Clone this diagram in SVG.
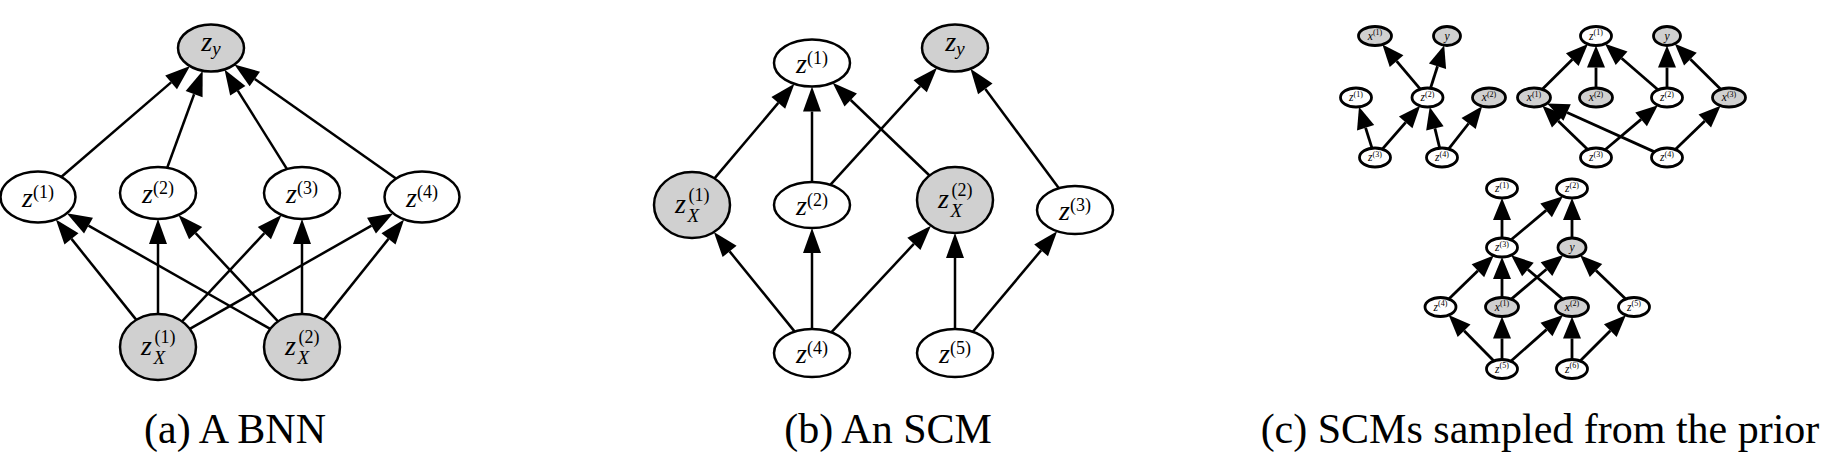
<svg xmlns="http://www.w3.org/2000/svg" width="1842" height="458" viewBox="0 0 1842 458" font-family="'Liberation Serif', 'DejaVu Serif', serif">
<style>
.n{fill:#fff;stroke:#000;stroke-width:2.5}
.g{fill:#d0d0d0;stroke:#000;stroke-width:2.5}
.ns{fill:#fff;stroke:#000;stroke-width:2.8}
.gs{fill:#d0d0d0;stroke:#000;stroke-width:2.8}
.e path{fill:none;stroke:#000;stroke-width:2.5;marker-end:url(#ah)}
.es path{fill:none;stroke:#000;stroke-width:2.8;marker-end:url(#as)}
text{font-family:"Liberation Serif","DejaVu Serif",serif;fill:#000}
.m{font-size:28px;text-anchor:middle}
.st{font-size:28px}
.i{font-style:italic}
.sp{font-size:18px;font-style:normal}
.sb{font-size:19px;font-style:italic}
.ms{font-size:11.5px;text-anchor:middle}
.sps{font-size:8px;font-style:normal}
.cap{font-size:42px;text-anchor:middle}
</style>
<defs>
<marker id="ah" markerUnits="userSpaceOnUse" markerWidth="25" markerHeight="18" refX="0" refY="9" orient="auto" overflow="visible"><path d="M0,0 L25,9 L0,18 z" fill="#000"/></marker>
<marker id="as" markerUnits="userSpaceOnUse" markerWidth="22" markerHeight="18" refX="0" refY="9" orient="auto" overflow="visible"><path d="M0,0 L22,9 L0,18 z" fill="#000"/></marker>
</defs>
<rect width="1842" height="458" fill="#fff"/>
<g id="edges">
<g class="e">
<path d="M61.2,177.0 L171.1,82.4"/>
<path d="M167.2,167.8 L194.1,94.2"/>
<path d="M287.0,169.1 L237.8,90.7"/>
<path d="M396.0,178.6 L254.8,79.0"/>
<path d="M136.3,319.9 L71.5,238.9"/>
<path d="M158,314 L158,244"/>
<path d="M182.0,321.4 L264.4,233.2"/>
<path d="M189.8,328.9 L371.5,225.7"/>
<path d="M270.2,328.9 L88.5,225.7"/>
<path d="M278.0,321.4 L195.6,233.2"/>
<path d="M302,314 L302,244"/>
<path d="M323.7,319.9 L388.5,238.9"/>
<path d="M714.5,178.4 L778.3,102.9"/>
<path d="M812,182 L812,111.5"/>
<path d="M929.5,175.5 L850.7,100.0"/>
<path d="M830.3,184.9 L920.2,86.2"/>
<path d="M1058.9,188.3 L985.3,88.9"/>
<path d="M794.7,331.6 L729.6,251.4"/>
<path d="M812,329 L812,253"/>
<path d="M831.3,332.3 L913.9,243.9"/>
<path d="M955,329 L955,258"/>
<path d="M972.8,331.8 L1041.1,250.4"/>
</g>
<g class="es">
<path d="M1420.3,89.1 L1396.6,61.2"/>
<path d="M1430.5,88.2 L1437.5,66.3"/>
<path d="M1372.0,148.2 L1365.6,127.8"/>
<path d="M1382.3,149.1 L1405.7,122.4"/>
<path d="M1439.7,148.1 L1434.9,128.3"/>
<path d="M1448.7,148.9 L1468.6,123.5"/>
<path d="M1542.3,89.3 L1572.3,59.6"/>
<path d="M1596,88 L1596,67.5"/>
<path d="M1658.0,89.7 L1621.6,58.2"/>
<path d="M1667,88 L1667,67.5"/>
<path d="M1720.7,89.3 L1690.4,59.2"/>
<path d="M1587.7,149.5 L1558.2,121.0"/>
<path d="M1605.1,149.8 L1641.1,119.4"/>
<path d="M1654.5,151.9 L1567.1,112.5"/>
<path d="M1675.3,149.5 L1704.8,121.0"/>
<path d="M1502,238 L1502,220"/>
<path d="M1511.1,239.8 L1546.1,210.4"/>
<path d="M1572,238 L1572,220"/>
<path d="M1448.8,299.0 L1477.9,270.8"/>
<path d="M1502,297.5 L1502,279"/>
<path d="M1562.7,299.1 L1527.9,269.5"/>
<path d="M1511.3,299.1 L1546.5,269.2"/>
<path d="M1625.7,299.0 L1596.0,270.5"/>
<path d="M1493.9,360.9 L1464.1,330.7"/>
<path d="M1502,359.5 L1502,338.5"/>
<path d="M1510.8,361.2 L1546.5,329.6"/>
<path d="M1572,359.5 L1572,338.5"/>
<path d="M1580.1,360.9 L1610.3,330.7"/>
</g>
</g>
<!-- (a) -->
<g id="a-zy"><ellipse class="g" cx="211" cy="48" rx="33" ry="23.5"/><text class="m" x="211" y="51"><tspan class="i">z</tspan><tspan class="sb" dy="4">y</tspan></text></g>
<g id="a-z1"><ellipse class="n" cx="38" cy="197" rx="37.5" ry="25.5"/><text class="m" x="38" y="207"><tspan class="i">z</tspan><tspan class="sp" dy="-9">(1)</tspan></text></g>
<g id="a-z2"><ellipse class="n" cx="158" cy="193" rx="38" ry="26"/><text class="m" x="158" y="203"><tspan class="i">z</tspan><tspan class="sp" dy="-9">(2)</tspan></text></g>
<g id="a-z3"><ellipse class="n" cx="302" cy="193" rx="38" ry="26"/><text class="m" x="302" y="203"><tspan class="i">z</tspan><tspan class="sp" dy="-9">(3)</tspan></text></g>
<g id="a-z4"><ellipse class="n" cx="422" cy="197" rx="37.5" ry="25.5"/><text class="m" x="422" y="207"><tspan class="i">z</tspan><tspan class="sp" dy="-9">(4)</tspan></text></g>
<g id="a-zx1"><ellipse class="g" cx="158" cy="347" rx="38" ry="33"/><text class="st"><tspan class="i" x="141" y="355">z</tspan><tspan class="sp" x="154.5" y="343">(1)</tspan><tspan class="sb" x="153.5" y="364">X</tspan></text></g>
<g id="a-zx2"><ellipse class="g" cx="302" cy="347" rx="38" ry="33"/><text class="st"><tspan class="i" x="285" y="355">z</tspan><tspan class="sp" x="298.5" y="343">(2)</tspan><tspan class="sb" x="297.5" y="364">X</tspan></text></g>
<!-- (b) -->
<g id="b-z1"><ellipse class="n" cx="812" cy="63" rx="38" ry="23.5"/><text class="m" x="812" y="73"><tspan class="i">z</tspan><tspan class="sp" dy="-9">(1)</tspan></text></g>
<g id="b-zy"><ellipse class="g" cx="955" cy="48" rx="33" ry="23.5"/><text class="m" x="955" y="51"><tspan class="i">z</tspan><tspan class="sb" dy="4">y</tspan></text></g>
<g id="b-zx1"><ellipse class="g" cx="692" cy="205" rx="38" ry="33"/><text class="st"><tspan class="i" x="675" y="213">z</tspan><tspan class="sp" x="688.5" y="201">(1)</tspan><tspan class="sb" x="687.5" y="222">X</tspan></text></g>
<g id="b-z2"><ellipse class="n" cx="812" cy="205" rx="38" ry="23"/><text class="m" x="812" y="215"><tspan class="i">z</tspan><tspan class="sp" dy="-9">(2)</tspan></text></g>
<g id="b-zx2"><ellipse class="g" cx="955" cy="200" rx="38" ry="33"/><text class="st"><tspan class="i" x="938" y="208">z</tspan><tspan class="sp" x="951.5" y="196">(2)</tspan><tspan class="sb" x="950.5" y="217">X</tspan></text></g>
<g id="b-z3"><ellipse class="n" cx="1075" cy="210" rx="38" ry="24"/><text class="m" x="1075" y="220"><tspan class="i">z</tspan><tspan class="sp" dy="-9">(3)</tspan></text></g>
<g id="b-z4"><ellipse class="n" cx="812" cy="353" rx="38" ry="24"/><text class="m" x="812" y="363"><tspan class="i">z</tspan><tspan class="sp" dy="-9">(4)</tspan></text></g>
<g id="b-z5"><ellipse class="n" cx="955" cy="353" rx="38" ry="24"/><text class="m" x="955" y="363"><tspan class="i">z</tspan><tspan class="sp" dy="-9">(5)</tspan></text></g>
<!-- (c) top-left -->
<g id="c1-x1"><ellipse class="gs" cx="1375" cy="36" rx="16.5" ry="9.5"/><text class="ms" x="1375" y="39.5"><tspan class="i">x</tspan><tspan class="sps" dy="-4.5">(1)</tspan></text></g>
<g id="c1-y"><ellipse class="gs" cx="1447" cy="36" rx="13.5" ry="9.5"/><text class="ms" x="1447" y="39.5"><tspan class="i">y</tspan></text></g>
<g id="c1-z1"><ellipse class="ns" cx="1356" cy="97.5" rx="15.5" ry="9.5"/><text class="ms" x="1356" y="101"><tspan class="i">z</tspan><tspan class="sps" dy="-4.5">(1)</tspan></text></g>
<g id="c1-z2"><ellipse class="ns" cx="1427.5" cy="97.5" rx="15.5" ry="9.5"/><text class="ms" x="1427.5" y="101"><tspan class="i">z</tspan><tspan class="sps" dy="-4.5">(2)</tspan></text></g>
<g id="c1-x2"><ellipse class="gs" cx="1489" cy="97.5" rx="16.5" ry="9.5"/><text class="ms" x="1489" y="101"><tspan class="i">x</tspan><tspan class="sps" dy="-4.5">(2)</tspan></text></g>
<g id="c1-z3"><ellipse class="ns" cx="1375" cy="157.5" rx="15.5" ry="9.5"/><text class="ms" x="1375" y="161"><tspan class="i">z</tspan><tspan class="sps" dy="-4.5">(3)</tspan></text></g>
<g id="c1-z4"><ellipse class="ns" cx="1442" cy="157.5" rx="15.5" ry="9.5"/><text class="ms" x="1442" y="161"><tspan class="i">z</tspan><tspan class="sps" dy="-4.5">(4)</tspan></text></g>
<!-- (c) top-right -->
<g id="c2-z1"><ellipse class="ns" cx="1596" cy="36" rx="15.5" ry="9.5"/><text class="ms" x="1596" y="39.5"><tspan class="i">z</tspan><tspan class="sps" dy="-4.5">(1)</tspan></text></g>
<g id="c2-y"><ellipse class="gs" cx="1667" cy="36" rx="13.5" ry="9.5"/><text class="ms" x="1667" y="39.5"><tspan class="i">y</tspan></text></g>
<g id="c2-x1"><ellipse class="gs" cx="1534" cy="97.5" rx="16.5" ry="9.5"/><text class="ms" x="1534" y="101"><tspan class="i">x</tspan><tspan class="sps" dy="-4.5">(1)</tspan></text></g>
<g id="c2-x2"><ellipse class="gs" cx="1596" cy="97.5" rx="16.5" ry="9.5"/><text class="ms" x="1596" y="101"><tspan class="i">x</tspan><tspan class="sps" dy="-4.5">(2)</tspan></text></g>
<g id="c2-z2"><ellipse class="ns" cx="1667" cy="97.5" rx="15.5" ry="9.5"/><text class="ms" x="1667" y="101"><tspan class="i">z</tspan><tspan class="sps" dy="-4.5">(2)</tspan></text></g>
<g id="c2-x3"><ellipse class="gs" cx="1729" cy="97.5" rx="16.5" ry="9.5"/><text class="ms" x="1729" y="101"><tspan class="i">x</tspan><tspan class="sps" dy="-4.5">(3)</tspan></text></g>
<g id="c2-z3"><ellipse class="ns" cx="1596" cy="157.5" rx="15.5" ry="9.5"/><text class="ms" x="1596" y="161"><tspan class="i">z</tspan><tspan class="sps" dy="-4.5">(3)</tspan></text></g>
<g id="c2-z4"><ellipse class="ns" cx="1667" cy="157.5" rx="15.5" ry="9.5"/><text class="ms" x="1667" y="161"><tspan class="i">z</tspan><tspan class="sps" dy="-4.5">(4)</tspan></text></g>
<!-- (c) bottom -->
<g id="c3-z1"><ellipse class="ns" cx="1502" cy="188.5" rx="15.5" ry="9.5"/><text class="ms" x="1502" y="192"><tspan class="i">z</tspan><tspan class="sps" dy="-4.5">(1)</tspan></text></g>
<g id="c3-z2"><ellipse class="ns" cx="1572" cy="188.5" rx="15.5" ry="9.5"/><text class="ms" x="1572" y="192"><tspan class="i">z</tspan><tspan class="sps" dy="-4.5">(2)</tspan></text></g>
<g id="c3-z3"><ellipse class="ns" cx="1502" cy="247.5" rx="15.5" ry="9.5"/><text class="ms" x="1502" y="251"><tspan class="i">z</tspan><tspan class="sps" dy="-4.5">(3)</tspan></text></g>
<g id="c3-y"><ellipse class="gs" cx="1572" cy="247.5" rx="14" ry="9.5"/><text class="ms" x="1572" y="251"><tspan class="i">y</tspan></text></g>
<g id="c3-z4"><ellipse class="ns" cx="1440.5" cy="307" rx="15.5" ry="9.5"/><text class="ms" x="1440.5" y="310.5"><tspan class="i">z</tspan><tspan class="sps" dy="-4.5">(4)</tspan></text></g>
<g id="c3-x1"><ellipse class="gs" cx="1502" cy="307" rx="16.5" ry="9.5"/><text class="ms" x="1502" y="310.5"><tspan class="i">x</tspan><tspan class="sps" dy="-4.5">(1)</tspan></text></g>
<g id="c3-x2"><ellipse class="gs" cx="1572" cy="307" rx="16.5" ry="9.5"/><text class="ms" x="1572" y="310.5"><tspan class="i">x</tspan><tspan class="sps" dy="-4.5">(2)</tspan></text></g>
<g id="c3-z5"><ellipse class="ns" cx="1634" cy="307" rx="15.5" ry="9.5"/><text class="ms" x="1634" y="310.5"><tspan class="i">z</tspan><tspan class="sps" dy="-4.5">(5)</tspan></text></g>
<g id="c3-z5b"><ellipse class="ns" cx="1502" cy="369" rx="15.5" ry="9.5"/><text class="ms" x="1502" y="372.5"><tspan class="i">z</tspan><tspan class="sps" dy="-4.5">(5)</tspan></text></g>
<g id="c3-z6"><ellipse class="ns" cx="1572" cy="369" rx="15.5" ry="9.5"/><text class="ms" x="1572" y="372.5"><tspan class="i">z</tspan><tspan class="sps" dy="-4.5">(6)</tspan></text></g>
<!-- captions -->
<text class="cap" x="235" y="443">(a) A BNN</text>
<text class="cap" x="888" y="443">(b) An SCM</text>
<text class="cap" x="1540" y="443">(c) SCMs sampled from the prior</text>
</svg>
